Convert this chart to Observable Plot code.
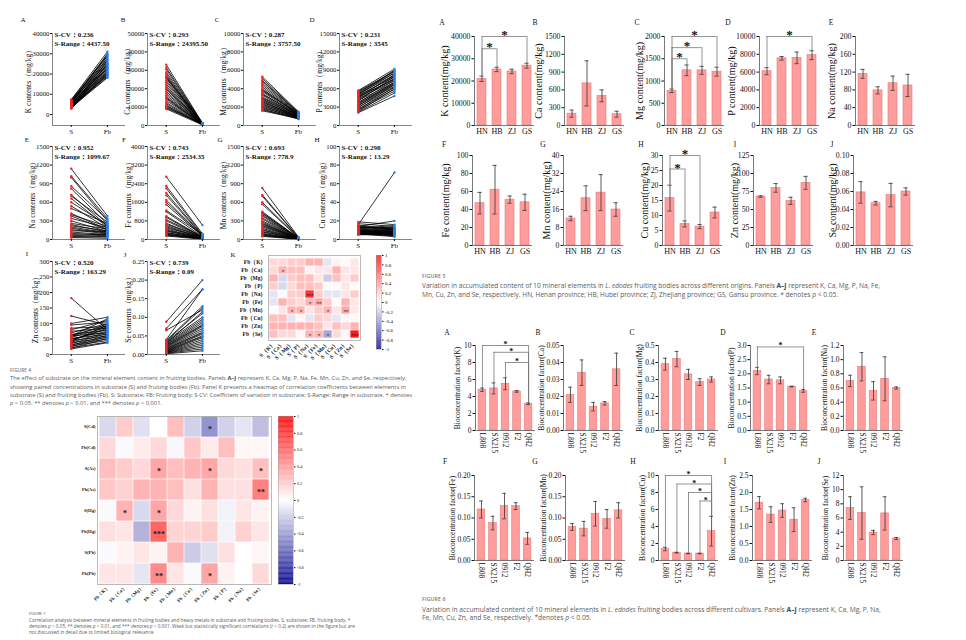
<!DOCTYPE html>
<html>
<head>
<meta charset="utf-8">
<script src="https://cdn.jsdelivr.net/npm/d3@7"></script>
<script src="https://cdn.jsdelivr.net/npm/@observablehq/plot@0.6"></script>
<style>
html,body{margin:0;padding:0;background:#fff;}
#page{position:relative;width:966px;height:640px;overflow:hidden;background:#fff;}
#page svg{overflow:visible;}
.lt{position:absolute;font-family:"Liberation Serif",serif;color:#111;line-height:1;white-space:nowrap;}
.fig{position:absolute;font-family:"Open Sans",sans-serif;color:#777;font-weight:600;letter-spacing:0.03em;line-height:1;white-space:nowrap;}
.cap{position:absolute;font-family:"Open Sans",sans-serif;color:#5b5b5b;white-space:nowrap;}
.cap b{font-weight:700;color:#444;}
</style>
</head>
<body>
<div id="page">
  <div class="fig" style="left:10px;top:367.5px;font-size:4.6px">FIGURE 4</div>
  <div class="cap" style="left:10px;top:374.4px;font-size:5.8px;line-height:8.2px">The effect of substrate on the mineral element content in fruiting bodies. Panels <b>A–J</b> represent K, Ca, Mg, P, Na, Fe, Mn, Cu, Zn, and Se, respectively,<br>showing paired concentrations in substrate (S) and fruiting bodies (Fb). Panel K presents a heatmap of correlation coefficients between elements in<br>substrate (S) and fruiting bodies (Fb). S: Substrate; FB: Fruiting body; S-CV: Coefficient of variation in substrate; S-Range: Range in substrate. * denotes<br><i>p</i> &lt; 0.05, ** denotes <i>p</i> &lt; 0.01, and *** denotes <i>p</i> &lt; 0.001.</div>

  <div class="fig" style="left:29px;top:612.2px;font-size:3.6px">FIGURE 7</div>
  <div class="cap" style="left:29px;top:616.6px;font-size:4.7px;line-height:6.2px">Correlation analysis between mineral elements in fruiting bodies and heavy metals in substrate and fruiting bodies. S, substrate; FB, fruiting body. *<br>denotes <i>p</i> &lt; 0.05, ** denotes <i>p</i> &lt; 0.01, and *** denotes <i>p</i> &lt; 0.001. Weak but statistically significant correlations (<i>r</i> &lt; 0.2) are shown in the figure but are<br>not discussed in detail due to limited biological relevance.</div>

  <div class="fig" style="left:422px;top:274.1px;font-size:5.2px">FIGURE 5</div>
  <div class="cap" style="left:422px;top:280.8px;font-size:6.6px;line-height:9px">Variation in accumulated content of 10 mineral elements in <i>L. edodes</i> fruiting bodies across different origins. Panels <b>A–J</b> represent K, Ca, Mg, P, Na, Fe,<br>Mn, Cu, Zn, and Se, respectively. HN, Henan province; HB, Hubei province; ZJ, Zhejiang province; GS, Gansu province. * denotes <i>p</i> &lt; 0.05.</div>

  <div class="fig" style="left:422px;top:597.4px;font-size:5.2px">FIGURE 6</div>
  <div class="cap" style="left:422px;top:605.8px;font-size:6.7px;line-height:8.4px">Variation in accumulated content of 10 mineral elements in <i>L. edodes</i> fruiting bodies across different cultivars. Panels <b>A–J</b> represent K, Ca, Mg, P, Na,<br>Fe, Mn, Cu, Zn, and Se, respectively. *denotes <i>p</i> &lt; 0.05.</div>
</div>
<script>
// ---------- Paired substrate (S) / fruiting body (Fb) concentrations, mg/kg ----------
const pairedLabels = ["K", "Ca", "Mg", "P", "Na", "Fe", "Mn", "Cu", "Zn", "Se"];
const kS   = [7400,7200,6900,6800,6500,6300,6100,6000,5800,5600,5500,5300,5200,5000,4900,4700,4600,4400,4300,4100,4000,3900,3700,3600,3500,3300,3200,3100,3000,5900];
const kFb  = [31000,29500,28800,27500,26000,29000,25500,24000,27000,23000,22500,28000,21000,25000,20500,24500,19000,23500,22000,18500,26500,20000,21500,19500,18200,24800,22800,20800,19800,30000];
const caS  = [33000,31500,30500,29000,28000,27000,26000,25500,24500,23500,22500,21500,20500,19500,18500,17500,16500,15500,14500,13500,12500,11800,11000,10500,10000,9500,9000,26500,20000,15000];
const caFb = [1400,1200,900,1300,800,1100,700,1000,600,1250,900,500,1150,700,400,950,650,850,550,1050,750,450,350,800,600,900,300,1000,650,500];
const mgS  = [5300,5100,4900,4800,4600,4400,4200,4000,3900,3700,3500,3400,3300,3100,2900,2800,2600,2500,2400,2300,2200,2100,2000,1900,1800,1700,1600,3800,3000,2700];
const mgFb = [1500,1450,1400,1350,1300,1250,1200,1150,1300,1100,1050,1200,1000,1100,950,1050,900,1000,850,950,800,900,750,850,700,800,750,1250,1100,900];
const pS   = [5700,5600,5500,5300,5200,5000,4900,4800,4600,4500,4400,4200,4100,4000,3800,3700,3600,3400,3300,3200,3000,2900,2700,2600,2500,2300,2200,2100,5100,4700];
const pFb  = [9200,8800,8500,9000,8200,8600,7900,8100,7600,8300,7300,7700,7000,8000,6800,7400,6600,7100,6400,6900,6200,6700,5900,6300,5600,6000,5300,4800,8900,7500];
const naS  = [1140,1000,860,820,720,700,660,600,540,500,420,400,380,340,300,260,240,220,200,180,160,140,120,100,80,60,50,40,30,1020];
const naFb = [380,300,320,250,220,280,200,230,180,260,160,210,150,190,130,170,120,140,110,100,90,130,80,70,60,90,50,40,20,340];
const feS  = [2700,2300,2200,2000,1900,1700,1500,1250,1200,1000,950,850,800,700,650,600,550,500,450,400,380,350,300,280,250,220,200,180,150,1600];
const feFb = [620,250,200,180,160,150,140,220,120,110,100,130,90,80,120,70,60,100,50,90,40,70,30,60,25,50,20,40,10,170];
const mnS  = [830,720,700,570,450,430,420,400,380,350,330,300,280,260,250,230,220,200,180,160,150,130,120,100,90,80,70,60,50,600];
const mnFb = [40,35,30,28,25,22,30,20,18,26,15,22,14,18,12,20,10,16,9,14,8,12,7,10,6,9,5,8,5,32];
const cuS  = [19,17,16,15,14.5,14,13.5,13,12.5,12,11.5,11,10.5,10,9.8,9.5,9,8.7,8.5,8,7.8,7.5,7,6.8,6.5,6.2,6,5.5,5,13];
const cuFb = [16,14,72,12,11,20,10,13,9,15,8,12,7,10,9,6,11,8,5,9,7,4,6,8,5,3,7,4,6,12];
const znS  = [182,124,100,95,85,80,75,70,65,62,60,58,55,52,50,48,45,42,40,38,35,32,30,28,25,22,20,18,60,45];
const znFb = [80,95,120,105,90,110,85,100,78,92,70,98,88,65,75,82,60,95,72,55,68,50,62,45,58,40,52,38,115,85];
const seS  = [0.088,0.07,0.065,0.04,0.038,0.036,0.035,0.033,0.03,0.028,0.026,0.025,0.023,0.021,0.02,0.018,0.016,0.015,0.013,0.012,0.01,0.009,0.008,0.007,0.006,0.005,0.004,0.003,0.002,0.03];
const seFb = [0.2,0.175,0.12,0.175,0.13,0.125,0.11,0.1,0.095,0.09,0.085,0.08,0.078,0.075,0.07,0.065,0.06,0.058,0.055,0.05,0.048,0.045,0.04,0.035,0.03,0.025,0.02,0.015,0.01,0.115];
const pairedS  = [kS, caS, mgS, pS, naS, feS, mnS, cuS, znS, seS];
const pairedFb = [kFb, caFb, mgFb, pFb, naFb, feFb, mnFb, cuFb, znFb, seFb];
const sCV    = ["0.236", "0.293", "0.287", "0.231", "0.952", "0.743", "0.693", "0.298", "0.520", "0.739"];
const sRange = ["4437.50", "24395.50", "3757.50", "3545", "1099.67", "2534.35", "778.9", "13.29", "163.29", "0.09"];
const pairedMin  = [-5400, 0, 0, 0, 0, 0, 0, 0, 0, 0];
const pairedMax  = [40000, 50000, 10000, 15000, 1500, 4000, 1500, 100, 300, 0.25];
const pairedStep = [10000, 10000, 2000, 3000, 300, 800, 300, 20, 50, 0.05];

// ---------- Correlation: Fb elements vs S elements ----------
const elemRows = ["Fb（K）", "Fb（Ca）", "Fb（Mg）", "Fb（P）", "Fb（Na）", "Fb（Fe）", "Fb（Mn）", "Fb（Cu）", "Fb（Zn）", "Fb（Se）"];
const elemCols = ["S（K）", "S（Ca）", "S（Mg）", "S（P）", "S（Na）", "S（Fe）", "S（Mn）", "S（Cu）", "S（Zn）", "S（Se）"];
const elemR = [
  [0.15, 0.15, 0.2, 0.2, 0.3, 0.3, -0.1, 0.05, 0.02, 0.1],
  [0.15, 0.3, 0.25, 0.25, 0.05, 0.1, 0.1, 0.3, 0.1, 0.1],
  [0.3, -0.15, 0.2, 0.25, 0.25, 0.1, -0.2, 0.25, 0.1, 0.2],
  [0.2, -0.15, 0.15, 0.25, 0.25, 0.2, 0.02, 0.02, 0.1, 0.02],
  [-0.1, 0.02, 0.2, 0.2, 0.8, 0.2, -0.1, -0.1, 0.1, 0.2],
  [-0.1, 0.3, 0.2, 0.15, 0.3, 0.35, 0.2, 0.02, 0.3, 0.1],
  [0.02, 0.1, 0.3, 0.3, 0.1, 0.2, 0.3, 0.1, 0.35, 0.1],
  [0.25, 0.25, -0.1, 0.03, -0.1, 0.2, 0.15, -0.1, 0.03, 0.03],
  [0.3, 0.3, 0.3, 0.3, 0.3, 0.25, 0.1, 0.25, 0.15, 0.3],
  [0.25, 0.15, 0.15, 0.03, 0.3, 0.3, -0.35, 0.15, 0.03, 0.9]
];
const elemStars = [[1,1,"*"],[4,4,"***"],[5,4,"*"],[5,5,"**"],[6,2,"*"],[6,3,"*"],[6,6,"*"],[6,8,"**"],[9,4,"*"],[9,5,"*"],[9,6,"*"],[9,9,"***"]];

// ---------- Correlation: Fb elements vs heavy metals ----------
const metalRows = ["S(Cd)", "Fb(Cd)", "S(As)", "Fb(As)", "S(Hg)", "Fb(Hg)", "S(Pb)", "Fb(Pb)"];
const metalCols = ["Fb（K）", "Fb（Ca）", "Fb（Mg）", "Fb（Fe）", "Fb（Mn）", "Fb（Cu）", "Fb（Zn）", "Fb（P）", "Fb（Na）", "Fb（Se）"];
const metalR = [
  [-0.15, 0.2, -0.12, 0, 0.25, -0.18, -0.42, -0.18, -0.1, -0.25],
  [0.15, -0.02, 0.08, 0.15, -0.03, 0.22, 0.08, 0.25, 0.03, 0.03],
  [0.25, 0.2, 0.15, 0.35, 0.25, 0.3, 0.35, 0.15, 0.12, 0.25],
  [0.22, 0.18, 0.3, 0.3, 0.25, 0.12, 0.3, 0.12, 0.12, 0.5],
  [-0.02, 0.3, -0.15, 0.35, 0.15, 0.05, 0.12, -0.05, 0.1, 0.05],
  [0.12, 0.1, -0.3, 0.6, 0.17, 0.17, 0.2, -0.05, 0.18, 0.1],
  [-0.02, 0.05, 0.1, 0.05, 0.3, -0.2, -0.12, 0.12, 0, 0.03],
  [0.1, 0.1, -0.1, 0.45, 0.1, -0.02, 0.35, 0.05, 0, 0.15]
];
const metalStars = [[0,6,"*"],[2,3,"*"],[2,6,"*"],[2,9,"*"],[3,9,"**"],[4,1,"*"],[4,3,"*"],[5,3,"***"],[7,3,"**"],[7,6,"*"]];

// ---------- Content by origin (mean, SD) ----------
const origins = ["HN", "HB", "ZJ", "GS"];
const originMeans = [
  [21000, 25200, 24300, 26900],  // K
  [200, 710, 500, 190],          // Ca
  [780, 1240, 1240, 1210],       // Mg
  [6100, 7550, 7600, 7900],      // P
  [116, 79, 95, 90],             // Na
  [47, 62, 51, 48],              // Fe
  [12, 21, 23.5, 16],            // Mn
  [15.8, 7.2, 6.3, 11],          // Cu
  [68, 80, 62, 87],              // Zn
  [0.059, 0.047, 0.056, 0.06]    // Se
];
const originErrs = [
  [1200, 1000, 1000, 1100],
  [60, 380, 100, 50],
  [40, 120, 90, 100],
  [400, 200, 650, 500],
  [10, 8, 16, 25],
  [12, 27, 4, 9],
  [1, 5.5, 8, 3],
  [4.3, 1, 0.7, 1.8],
  [1, 6, 5, 9],
  [0.012, 0.002, 0.013, 0.004]
];
const originMax  = [40000, 1500, 2000, 10000, 200, 100, 40, 30, 125, 0.1];
const originStep = [10000, 300, 500, 2000, 40, 20, 8, 5, 25, 0.02];
const originDec  = [0, 0, 0, 0, 0, 0, 0, 0, 0, 2];
// significance brackets: [from, to, level]
const originBrackets = [[[0,1,34500],[0,3,40000]], [], [[0,1,1500],[0,2,1750],[0,3,2000]], [[0,3,10000]], [], [], [], [[0,1,25.5],[0,2,30]], [], []];

// ---------- Bioconcentration factor by cultivar (mean, SD) ----------
const cultivars = ["L808", "SX215", "0912", "F2", "QH2"];
const bcfMeans = [
  [4.8, 4.95, 5.5, 4.6, 3.15],
  [0.021, 0.034, 0.014, 0.016, 0.036],
  [0.39, 0.42, 0.33, 0.285, 0.3],
  [2.1, 1.8, 1.77, 1.55, 1.4],
  [0.7, 0.9, 0.56, 0.73, 0.6],
  [0.12, 0.088, 0.128, 0.128, 0.052],
  [0.079, 0.075, 0.11, 0.098, 0.118],
  [1.35, 0.92, 0.82, 0.82, 3.45],
  [1.7, 1.35, 1.47, 1.2, 1.78],
  [7.4, 6.7, 3.95, 6.65, 3.1]
];
const bcfErrs = [
  [0.2, 0.65, 0.7, 0.1, 0.1],
  [0.0045, 0.0075, 0.0025, 0.001, 0.0095],
  [0.035, 0.045, 0.03, 0.02, 0.015],
  [0.13, 0.15, 0.12, 0.01, 0.05],
  [0.08, 0.2, 0.13, 0.31, 0.015],
  [0.02, 0.016, 0.03, 0.008, 0.014],
  [0.008, 0.017, 0.029, 0.022, 0.018],
  [0.2, 0.05, 0.03, 0.03, 1.75],
  [0.18, 0.23, 0.2, 0.35, 0.05],
  [1.6, 3.7, 0.3, 2.35, 0.15]
];
const bcfMax  = [10, 0.05, 0.5, 3, 1.2, 0.2, 0.2, 10, 2.5, 12];
const bcfStep = [2, 0.01, 0.1, 0.5, 0.2, 0.05, 0.05, 2, 0.5, 2];
const bcfDec  = [0, 2, 1, 1, 1, 2, 2, 0, 1, 0];
const bcfBrackets = [[[0,4,10],[1,4,9.2],[2,4,8]], [], [], [[0,4,2.95]], [], [], [], [[0,4,10],[1,4,9],[2,4,8],[3,4,7]], [], []];

const panelLetters = ["A", "B", "C", "D", "E", "F", "G", "H", "I", "J"];

// ---------- helpers ----------
const page = document.getElementById("page");
const SERIF = "Liberation Serif, serif";
const CORR = {type: "linear", domain: [-1, 0, 1], range: ["#00008b", "#ffffff", "#ff0000"]};

function put(node, x, y) {
  node.style.position = "absolute";
  node.style.left = x + "px";
  node.style.top = y + "px";
  page.appendChild(node);
}
function letter(t, x, y, size) {
  const d = document.createElement("div");
  d.className = "lt";
  d.textContent = t;
  d.style.fontSize = size + "px";
  d.style.transform = "translate(-50%,-50%)";
  put(d, x, y);
}
const fixed = dec => d => d.toFixed(dec);

// Rotated y-axis title placed left of the frame, expressed in data units
function yTitle(text, xLo, xHi, width, offsetPx, yMid, fontSize) {
  const xAt = xLo - offsetPx * (xHi - xLo) / width;
  return Plot.text([text], {text: d => d, x: xAt, y: yMid, rotate: -90, textAnchor: "middle", lineAnchor: "middle", fontSize});
}

// Paired slope panel: one line per sample from S to Fb
function pairedPanel(k, ax, yTop, yBot, labelOffset) {
  const s = pairedS[k], fb = pairedFb[k], idx = d3.range(s.length);
  const mL = 40, mT = 4, mR = 4, mB = 14, W = 73;
  const xLo = -0.52, xHi = 1.5;
  const lo = pairedMin[k], hi = pairedMax[k], st = pairedStep[k];
  const ticks = d3.range(0, hi + st / 2, st);
  const chart = Plot.plot({
    width: mL + W + mR, height: mT + (yBot - yTop) + mB,
    marginLeft: mL, marginRight: mR, marginTop: mT, marginBottom: mB,
    style: {fontFamily: SERIF, fontSize: "6.8px", color: "#111", background: "none", overflow: "visible"},
    x: {domain: [xLo, xHi]},
    y: {domain: [lo, hi]},
    marks: [
      Plot.link(idx, {x1: 0, x2: 1, y1: i => s[i], y2: i => fb[i], stroke: "#000", strokeWidth: 0.8}),
      Plot.dot(idx, {x: 0, y: i => s[i], r: 1.2, fill: "#e8282b"}),
      Plot.dot(idx, {x: 1, y: i => fb[i], r: 1.2, fill: "#2d7ee6"}),
      Plot.ruleX([xLo], {stroke: "#666", strokeWidth: 0.8}),
      Plot.ruleY([lo], {stroke: "#666", strokeWidth: 0.8}),
      Plot.axisY({ticks, tickFormat: fixed(k === 9 ? 2 : 0), tickSize: 2, tickPadding: 1, label: null}),
      Plot.axisX({ticks: [0, 1], tickFormat: d => d === 0 ? "S" : "Fb", tickSize: 2, tickPadding: 2, label: null, fontSize: 7}),
      Plot.text([`S-CV：${sCV[k]}\nS-Range：${sRange[k]}`], {text: d => d, frameAnchor: "top-left", lineAnchor: "top", textAnchor: "start", dx: 2, dy: -3, fontWeight: "bold", fontSize: 7, lineHeight: 1.3}),
      yTitle(`${pairedLabels[k]} contents（mg/kg）`, xLo, xHi, W, labelOffset, (lo + hi) / 2, 7.5)
    ]
  });
  put(chart, ax - mL, yTop - mT);
}

// Bar panel with SD error bars and optional significance brackets
function barPanel(o) {
  const n = o.cats.length, idx = d3.range(n);
  const mL = 46, mT = 6, mR = 4, mB = 14, W = 60;
  const lo = -o.pad, hi = n - 1 + o.pad;
  const ticks = d3.range(0, o.max + o.step / 2, o.step);
  const up = i => o.means[i] + o.errs[i];
  const dn = i => o.means[i] - o.errs[i];
  const br = o.brackets;
  const chart = Plot.plot({
    width: mL + W + mR, height: mT + (o.yBot - o.yTop) + mB,
    marginLeft: mL, marginRight: mR, marginTop: mT, marginBottom: mB,
    style: {fontFamily: SERIF, fontSize: o.tickFont + "px", color: "#111", background: "none", overflow: "visible"},
    x: {domain: [lo, hi]},
    y: {domain: [0, o.max]},
    marks: [
      Plot.rect(idx, {x1: i => i - o.hw, x2: i => i + o.hw, y1: 0, y2: i => o.means[i], fill: "#ff9c9c", stroke: "#e47c7c", strokeWidth: 0.6}),
      Plot.ruleX(idx, {x: i => i, y1: dn, y2: up, stroke: "#333", strokeWidth: 0.8}),
      Plot.ruleY(idx, {y: up, x1: i => i - o.cap, x2: i => i + o.cap, stroke: "#333", strokeWidth: 0.8}),
      Plot.ruleY(idx, {y: dn, x1: i => i - o.cap, x2: i => i + o.cap, stroke: "#333", strokeWidth: 0.8}),
      Plot.ruleY(br, {y: b => b[2], x1: b => b[0], x2: b => b[1], stroke: "#777", strokeWidth: 0.8}),
      Plot.ruleX(br, {x: b => b[0], y1: b => up(b[0]), y2: b => b[2], stroke: "#777", strokeWidth: 0.8}),
      Plot.ruleX(br, {x: b => b[1], y1: b => up(b[1]), y2: b => b[2], stroke: "#777", strokeWidth: 0.8}),
      Plot.text(br, {x: b => (b[0] + b[1]) / 2, y: b => b[2], text: () => "*", fontSize: o.starSize, fontWeight: "bold", lineAnchor: "middle", dy: o.starDy}),
      Plot.ruleX([lo], {stroke: "#555", strokeWidth: 0.8}),
      Plot.ruleY([0], {stroke: "#555", strokeWidth: 0.8}),
      Plot.axisY({ticks, tickFormat: fixed(o.dec), tickSize: 2.5, tickPadding: 1.5, label: null}),
      Plot.axisX({ticks: idx, tickFormat: i => o.cats[i], tickSize: 0, tickPadding: o.rotate ? 2 : 3, tickRotate: o.rotate ? 90 : 0, label: null, fontSize: o.catFont}),
      yTitle(o.label, lo, hi, W, o.labelOffset, o.max / 2, o.labelFont)
    ]
  });
  put(chart, o.ax - mL, o.yTop - mT);
}

// Correlation heatmap with significance stars
function heatPanel(o) {
  const cells = [];
  o.rows.forEach((r, i) => o.cols.forEach((c, j) => cells.push({r, c, v: o.vals[i][j]})));
  const stars = o.stars.map(([i, j, s]) => ({r: o.rows[i], c: o.cols[j], s}));
  const chart = Plot.plot({
    width: o.mL + o.w + 2, height: 2 + o.h + 30,
    marginLeft: o.mL, marginRight: 2, marginTop: 2, marginBottom: 30,
    style: {fontFamily: SERIF, fontSize: o.fs + "px", color: "#111", background: "none", overflow: "visible"},
    x: {type: "band", domain: o.cols, padding: 0},
    y: {type: "band", domain: o.rows, padding: 0},
    color: CORR,
    marks: [
      Plot.cell(cells, {x: "c", y: "r", fill: "v", inset: 0.35}),
      Plot.text(stars, {x: "c", y: "r", text: "s", fontSize: o.starSize, fontWeight: "bold", fill: "#222", lineAnchor: "middle", dy: o.starSize * 0.25}),
      Plot.frame({stroke: "#aaa", strokeWidth: 0.8}),
      Plot.axisY({tickSize: 0, tickPadding: 2, fontWeight: "bold", label: null}),
      Plot.axisX({tickSize: 0, tickPadding: 2, tickRotate: -45, fontWeight: "bold", label: null})
    ]
  });
  put(chart, o.x - o.mL, o.y - 2);
}

// Vertical colour ramp for the correlation scale
function colorBar(x, y, w, h, fs) {
  const steps = d3.range(-100, 100).map(i => i / 100);
  const chart = Plot.plot({
    width: w + 20, height: h,
    marginLeft: 0, marginRight: 20, marginTop: 0, marginBottom: 0,
    style: {fontFamily: SERIF, fontSize: fs + "px", color: "#111", background: "none", overflow: "visible"},
    x: {domain: [0, 1], axis: null},
    y: {domain: [-1, 1]},
    color: CORR,
    marks: [
      Plot.rect(steps, {x1: 0, x2: 1, y1: d => d, y2: d => Math.min(1, d + 0.011), fill: d => d + 0.005}),
      Plot.frame({stroke: "#999", strokeWidth: 0.5}),
      Plot.axisY({anchor: "right", ticks: d3.range(-5, 6).map(i => i / 5), tickFormat: d => String(d), tickSize: 1.5, tickPadding: 2, label: null})
    ]
  });
  put(chart, x, y);
}

// ---------- Figure 4: paired panels A–J ----------
const p4Axes = [[52,33,125],[147,33,125],[243,33,125],[339,33,125],[52,146,239],[147,146,239],[243,146,239],[339,146,239],[52,261,354],[147,261,354]];
const p4Offsets = [24, 20, 20, 20, 20, 19, 20, 17, 17, 19];
const p4Letters = [[23,20],[123,20],[217,20],[312,20],[27,140],[124,140],[220,140],[317,140],[27,254],[125,255]];
p4Axes.forEach(([ax, t, b], k) => pairedPanel(k, ax, t, b, p4Offsets[k]));
p4Letters.forEach(([x, y], k) => letter(panelLetters[k], x, y, 7));

// Panel K: element correlation heatmap
letter("K", 233, 255, 7);
heatPanel({x: 268, y: 255, w: 92, h: 85, mL: 34, rows: elemRows, cols: elemCols, vals: elemR, stars: elemStars, fs: 5.5, starSize: 5});
colorBar(376, 255, 5, 94, 5);

// ---------- Figure 7: heavy-metal correlation heatmap ----------
heatPanel({x: 97, y: 416, w: 174, h: 168, mL: 30, rows: metalRows, cols: metalCols, vals: metalR, stars: metalStars, fs: 4.6, starSize: 8});
colorBar(278, 416, 15, 168, 4.2);

// ---------- Figure 5: content by origin ----------
const p5Axes = [[474,36,125],[564,36,125],[664,36,125],[759,36,125],[855,36,125],[472,155,245],[563,155,245],[662,155,245],[753,155,245],[853,155,245]];
const p5Offsets = [30, 26, 25, 28, 24, 27, 17, 18, 19, 21];
const p5Letters = [[442,23],[535,23],[637,23],[728,23],[831,23],[444,145],[543,145],[641,145],[735,145],[832,145]];
p5Axes.forEach(([ax, t, b], k) => barPanel({
  ax, yTop: t, yBot: b, cats: origins, means: originMeans[k], errs: originErrs[k],
  max: originMax[k], step: originStep[k], dec: originDec[k], brackets: originBrackets[k],
  label: `${pairedLabels[k]} content(mg/kg)`, labelOffset: p5Offsets[k],
  pad: 0.5, hw: 0.3, cap: 0.14, rotate: false,
  tickFont: 7.8, catFont: 8, labelFont: 10, starSize: 13, starDy: -1.5
}));
p5Letters.forEach(([x, y], k) => letter(panelLetters[k], x, y, 7.5));

// ---------- Figure 6: bioconcentration factor by cultivar ----------
const p6Axes = [[475,345,430],[563,345,430],[658,345,430],[750,345,430],[843,345,430],[474,475,560],[565,475,560],[658,475,560],[752,475,560],[843,475,560]];
const p6Offsets = [18, 22, 19, 19, 19, 22, 22, 16, 20, 18];
const p6Letters = [[447,333],[538,333],[632,333],[723,333],[814,333],[445,462],[535,462],[633,462],[725,462],[819,462]];
p6Axes.forEach(([ax, t, b], k) => barPanel({
  ax, yTop: t, yBot: b, cats: cultivars, means: bcfMeans[k], errs: bcfErrs[k],
  max: bcfMax[k], step: bcfStep[k], dec: bcfDec[k], brackets: bcfBrackets[k],
  label: `Bioconcentration factor(${pairedLabels[k]})`, labelOffset: p6Offsets[k],
  pad: 0.6, hw: 0.33, cap: 0.16, rotate: true,
  tickFont: 7.5, catFont: 7.5, labelFont: 7.6, starSize: 8, starDy: -1
}));
p6Letters.forEach(([x, y], k) => letter(panelLetters[k], x, y, 7.5));
</script>
</body>
</html>
